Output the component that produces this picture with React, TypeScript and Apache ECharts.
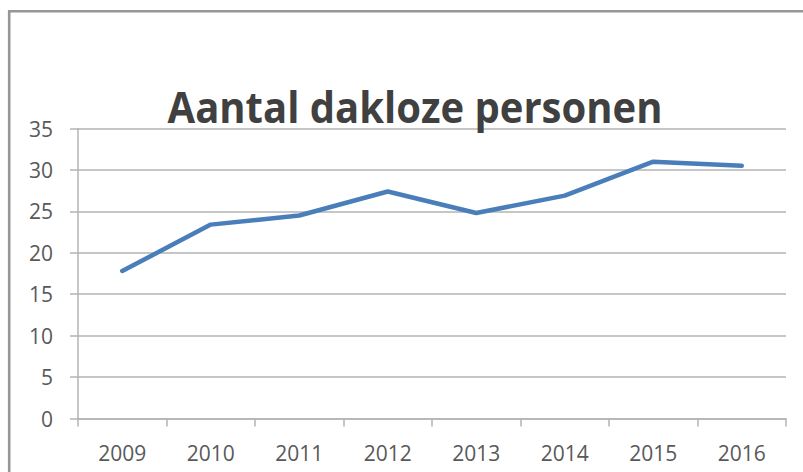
import React, { useEffect, useRef } from "react";
import * as echarts from "echarts";

const years = ["2009", "2010", "2011", "2012", "2013", "2014", "2015", "2016"];
const homeless = [17.8, 23.4, 24.5, 27.4, 24.8, 26.9, 31.0, 30.5];
const chartTitle = "Aantal dakloze personen";

export default function App() {
  const ref = useRef<HTMLDivElement>(null);
  useEffect(() => {
    if (!ref.current) return;
    const chart = echarts.init(ref.current, null, { renderer: "svg" });
    const gray = "#b3b3b3";
    chart.setOption({
      animation: false,
      backgroundColor: "#ffffff",
      graphic: [
        {
          type: "polyline",
          shape: { points: [[9.2, 480], [9.2, 11.2], [810, 11.2]] },
          style: { stroke: "#969696", lineWidth: 2.6, fill: null },
          z: 10,
        },
        {
          type: "text",
          x: 415,
          y: 128,
          scaleY: 1.08,
          style: {
            text: chartTitle,
            fontFamily: "Open Sans",
            fontWeight: "bold",
            fontSize: 40,
            fill: "#404040",
            textAlign: "center",
            textVerticalAlign: "bottom",
          },
          z: 20,
        },
      ],
      grid: { left: 78, right: 17, top: 128.5, bottom: 53.5 },
      xAxis: {
        type: "category",
        data: years,
        boundaryGap: true,
        axisLine: { lineStyle: { color: gray, width: 1.5 } },
        axisTick: { show: true, length: 8, lineStyle: { color: gray, width: 1.5 } },
        axisLabel: {
          margin: 24,
          color: "#595959",
          fontSize: 21,
          fontFamily: "Open Sans",
        },
      },
      yAxis: {
        type: "value",
        min: 0,
        max: 35,
        interval: 5,
        axisLine: { show: true, lineStyle: { color: gray, width: 1.5 } },
        axisTick: { show: true, length: 8, lineStyle: { color: gray, width: 1.5 } },
        splitLine: { show: true, lineStyle: { color: gray, width: 1.5 } },
        axisLabel: {
          margin: 25,
          color: "#595959",
          fontSize: 21,
          fontFamily: "Open Sans",
        },
      },
      series: [
        {
          type: "line",
          data: homeless,
          symbol: "none",
          lineStyle: { color: "#4a7ebb", width: 4.5, cap: "round", join: "round" },
          itemStyle: { color: "#4a7ebb" },
        },
      ],
    });
    return () => chart.dispose();
  }, []);
  return (
    <div
      ref={ref}
      style={{ position: "fixed", left: 0, top: 0, width: 803, height: 472 }}
    />
  );
}
